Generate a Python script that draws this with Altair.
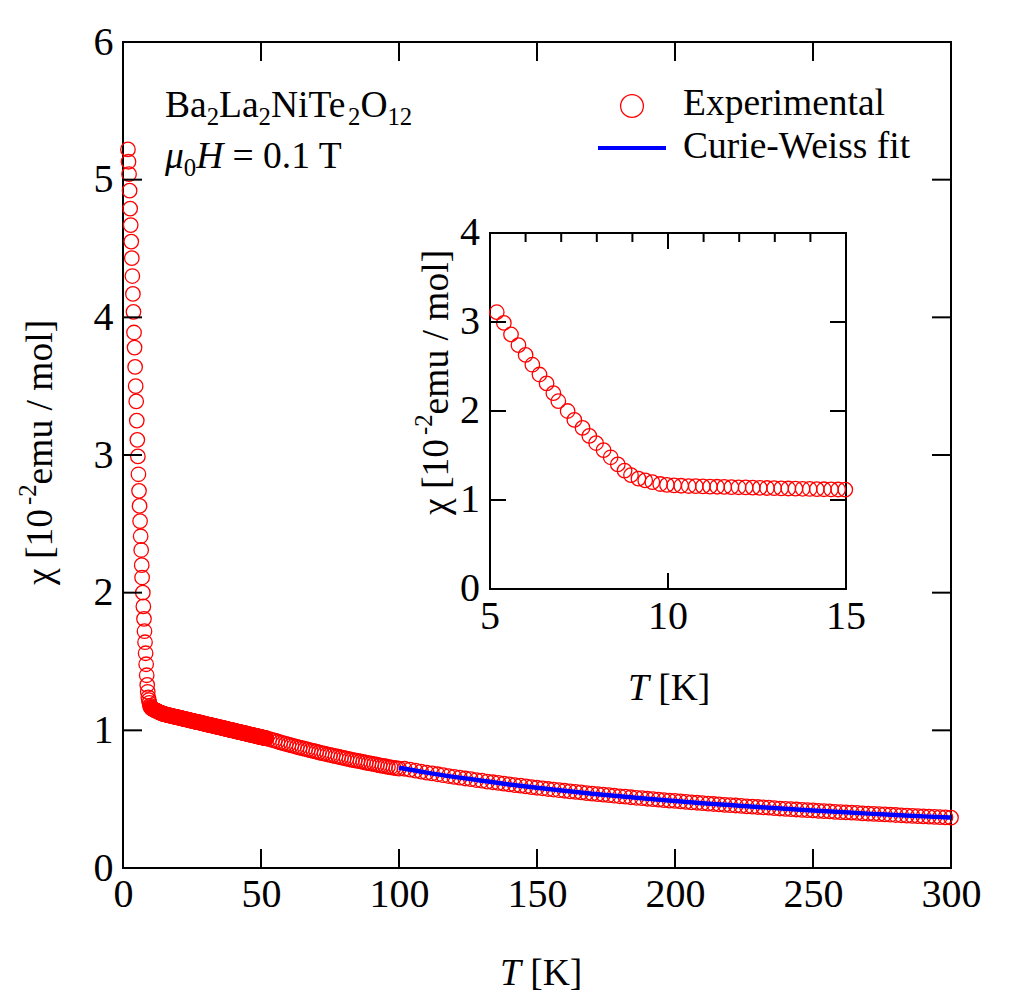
import altair as alt
import pandas as pd

FONT = "Liberation Serif"

# ---- measured susceptibility chi (1e-2 emu/mol) versus T (K) ----
# low-temperature sweep, 0.2 K spacing
low_t0, low_dt = 1.79, 0.2
low_chi = [5.22, 5.13, 5.04, 4.92, 4.79, 4.67, 4.55, 4.43, 4.30, 4.17, 4.04,
           3.89, 3.78, 3.64, 3.50, 3.39, 3.25]

# transition region
mid_T = [5.19, 5.39, 5.59, 5.80, 6.00, 6.19, 6.39, 6.59, 6.78, 6.92, 7.18,
         7.37, 7.60, 7.79, 7.98, 8.19, 8.39, 8.59, 8.78, 8.96, 9.17, 9.36,
         9.56, 9.78, 9.97, 10.17, 10.37, 10.58, 10.78]
mid_chi = [3.11, 2.99, 2.86, 2.74, 2.63, 2.52, 2.41, 2.31, 2.20, 2.11, 2.00,
           1.90, 1.81, 1.72, 1.64, 1.56, 1.48, 1.40, 1.33, 1.28, 1.24, 1.22,
           1.20, 1.18, 1.17, 1.165, 1.160, 1.157, 1.155]

# 10.98 K .. 14.98 K, 0.2 K spacing
seg1_t0, seg1_dt = 10.98, 0.2
seg1_chi = [1.153, 1.151, 1.149, 1.147, 1.145, 1.143, 1.141, 1.139, 1.137,
            1.135, 1.133, 1.131, 1.129, 1.128, 1.126, 1.124, 1.123, 1.121,
            1.120, 1.118, 1.117]

# 15.25 K .. 51.75 K, 0.25 K spacing (one row per kelvin)
seg2_t0, seg2_dt = 15.25, 0.25
seg2_chi = [
    1.116, 1.115, 1.114, 1.112,
    1.111, 1.110, 1.109, 1.107,
    1.106, 1.105, 1.104, 1.102,
    1.101, 1.100, 1.099, 1.098,
    1.097, 1.096, 1.095, 1.093,
    1.092, 1.091, 1.090, 1.088,
    1.087, 1.086, 1.085, 1.083,
    1.082, 1.081, 1.080, 1.079,
    1.078, 1.077, 1.076, 1.074,
    1.073, 1.072, 1.071, 1.069,
    1.068, 1.067, 1.066, 1.064,
    1.063, 1.062, 1.061, 1.060,
    1.059, 1.058, 1.057, 1.055,
    1.054, 1.053, 1.052, 1.050,
    1.049, 1.048, 1.047, 1.045,
    1.044, 1.043, 1.042, 1.041,
    1.040, 1.039, 1.038, 1.036,
    1.035, 1.034, 1.033, 1.031,
    1.030, 1.029, 1.028, 1.026,
    1.025, 1.024, 1.023, 1.022,
    1.021, 1.020, 1.019, 1.017,
    1.016, 1.015, 1.014, 1.012,
    1.011, 1.010, 1.009, 1.007,
    1.006, 1.005, 1.004, 1.003,
    1.002, 1.001, 1.000, 0.998,
    0.997, 0.996, 0.995, 0.993,
    0.992, 0.991, 0.990, 0.988,
    0.987, 0.986, 0.985, 0.984,
    0.983, 0.982, 0.981, 0.979,
    0.978, 0.977, 0.976, 0.974,
    0.973, 0.972, 0.971, 0.969,
    0.968, 0.967, 0.966, 0.965,
    0.964, 0.963, 0.962, 0.960,
    0.959, 0.958, 0.957, 0.955,
    0.954, 0.953, 0.952, 0.950,
    0.949, 0.948, 0.947, 0.946,
    0.945, 0.944, 0.943,
]

# 52 K .. 100 K, 1 K spacing
seg3_t0, seg3_dt = 52.0, 1.0
seg3_chi = [0.942, 0.936, 0.930, 0.925, 0.919, 0.913, 0.907, 0.902, 0.896,
            0.891, 0.886, 0.880, 0.875, 0.870, 0.865, 0.860, 0.855, 0.850,
            0.845, 0.840, 0.835, 0.831, 0.826, 0.821, 0.817, 0.812, 0.808,
            0.803, 0.799, 0.795, 0.790, 0.786, 0.782, 0.778, 0.774, 0.770,
            0.766, 0.762, 0.758, 0.754, 0.750, 0.746, 0.742, 0.739, 0.735,
            0.731, 0.728, 0.725, 0.722]

# 102 K .. 300 K, 2 K spacing
seg4_t0, seg4_dt = 102.0, 2.0
seg4_chi = [0.721, 0.714, 0.707, 0.700, 0.693, 0.687, 0.681, 0.674, 0.668, 0.662,
            0.656, 0.650, 0.645, 0.639, 0.634, 0.628, 0.623, 0.618, 0.613, 0.607,
            0.602, 0.598, 0.593, 0.588, 0.583, 0.579, 0.574, 0.570, 0.565, 0.561,
            0.557, 0.553, 0.549, 0.544, 0.540, 0.537, 0.533, 0.529, 0.525, 0.521,
            0.518, 0.514, 0.510, 0.507, 0.503, 0.500, 0.497, 0.493, 0.490, 0.487,
            0.484, 0.480, 0.477, 0.474, 0.471, 0.468, 0.465, 0.462, 0.459, 0.457,
            0.454, 0.451, 0.448, 0.446, 0.443, 0.440, 0.438, 0.435, 0.432, 0.430,
            0.428, 0.425, 0.422, 0.420, 0.418, 0.415, 0.413, 0.411, 0.408, 0.406,
            0.404, 0.402, 0.400, 0.397, 0.395, 0.393, 0.391, 0.389, 0.387, 0.385,
            0.383, 0.381, 0.379, 0.377, 0.375, 0.373, 0.371, 0.369, 0.368, 0.366]

# Curie-Weiss fit, 100-300 K
fit_T = [100, 110, 120, 130, 140, 150, 160, 170, 180, 190, 200,
         210, 220, 230, 240, 250, 260, 270, 280, 290, 300]
fit_chi = [0.728, 0.693, 0.662, 0.634, 0.607, 0.583, 0.561, 0.540, 0.521, 0.503,
           0.487, 0.471, 0.457, 0.443, 0.430, 0.418, 0.406, 0.395, 0.385, 0.375,
           0.366]

# axis ticks
main_xticks = [0, 50, 100, 150, 200, 250, 300]
main_yticks = [0, 1, 2, 3, 4, 5, 6]
inset_xticks = [5, 10, 15]
inset_xminor = [6, 7, 8, 9, 11, 12, 13, 14]
inset_yticks = [0, 1, 2, 3, 4]


def sweep(t0, dt, vals):
    return [round(t0 + dt * i, 3) for i in range(len(vals))], list(vals)


T_all, chi_all = [], []
for t, c in [sweep(low_t0, low_dt, low_chi), (mid_T, mid_chi),
             sweep(seg1_t0, seg1_dt, seg1_chi), sweep(seg2_t0, seg2_dt, seg2_chi),
             sweep(seg3_t0, seg3_dt, seg3_chi), sweep(seg4_t0, seg4_dt, seg4_chi)]:
    T_all += t
    chi_all += c

data = pd.DataFrame({"T": T_all, "chi": chi_all})
inset_data = data[(data["T"] >= 5) & (data["T"] <= 15.05)]
fit = pd.DataFrame({"T": fit_T, "chi": fit_chi})

# ---- layout (pixels) ----
PAD_L, PAD_T, W, H = 123, 42, 828, 826
PAD_R = 1036 - PAD_L - W
PAD_B = 997 - PAD_T - H


def X(px):
    return px - PAD_L


def Y(py):
    return py - PAD_T


RED = "#ff0000"
BLUE = "#0000ff"
MARK_SIZE = 210
MARK_STROKE = 1.3

sx_main = alt.Scale(domain=[0, 300], nice=False, zero=False)
sy_main = alt.Scale(domain=[0, 6], nice=False, zero=False)
INS_L, INS_R, INS_B, INS_T = X(490), X(846), Y(589), Y(233)
sx_ins = alt.Scale(domain=[5, 15], range=[INS_L, INS_R], nice=False, zero=False)
sy_ins = alt.Scale(domain=[0, 4], range=[INS_B, INS_T], nice=False, zero=False)

# glyph advance widths (em) for serif text layout
ADV = {'B': .667, 'a': .444, 'L': .611, 'N': .722, 'i': .278, 'T': .611,
       'e': .444, 'O': .722, ' ': .25, '=': .564, '.': .25, '[': .333,
       ']': .333, 'K': .722, 'm': .778, 'u': .5, '/': .278, 'o': .5,
       'l': .278, '-': .333, 'χ': .549, 'μ': .576, 'H': .722, 'C': .667,
       'r': .333, 'W': .944, 's': .389, 'f': .333, 't': .278}


def adv(s, size, italic=False):
    w = 0.0
    for ch in s:
        if ch.isdigit():
            w += .5
        elif italic and ch == 'T':
            w += .556
        elif italic and ch == 'μ':
            w += .5
        else:
            w += ADV.get(ch, .5)
    return w * size


def text(txt, x, y, size, italic=False, align="left", angle=0, baseline="alphabetic"):
    kw = dict(font=FONT, fontSize=size, color="black", align=align,
              baseline=baseline, fontStyle="italic" if italic else "normal")
    if angle:
        kw["angle"] = angle
    return alt.Chart(pd.DataFrame({"t": [txt]})).mark_text(**kw).encode(
        text="t:N", x=alt.value(x), y=alt.value(y))


def rich(pieces, x, y, size):
    """pieces: (text, kind, italic); kind in n/sub/sup; laid out left to right."""
    out = []
    small = size * 0.66
    for txt, kind, it in pieces:
        lead = len(txt) - len(txt.lstrip(" "))
        if kind == "sub":
            out.append(text(txt, x, y + size * 0.22, small, it))
            x += adv(txt, small, it)
        elif kind == "sup":
            out.append(text(txt, x, y - size * 0.42, small, it))
            x += adv(txt, small, it)
        else:
            x += adv(" " * lead, size)
            out.append(text(txt.strip(" "), x, y, size, it))
            x += adv(txt.lstrip(" "), size, it)
    return out


def rich_vertical(pieces, x, y, size):
    """Same as rich, rotated to read bottom-to-top; (x, y) is the baseline start."""
    out = []
    small = size * 0.66
    for txt, kind, it in pieces:
        if kind == "sup":
            out.append(text(txt, x - size * 0.42, y, small, it, angle=270))
            y -= adv(txt, small, it)
        else:
            out.append(text(txt, x, y, size, it, angle=270))
            y -= adv(txt, size, it)
    return out


LABEL_SIZE = 40
TEXT_SIZE = 37.5

layers = []

# main scatter with its labelled axes
layers.append(
    alt.Chart(data).mark_point(shape="circle", filled=False, color=RED, size=MARK_SIZE,
                               strokeWidth=MARK_STROKE, opacity=1).encode(
        x=alt.X("T:Q", scale=sx_main,
                axis=alt.Axis(values=main_xticks, ticks=False, domain=False, grid=False,
                              labelFont=FONT, labelFontSize=LABEL_SIZE, labelColor="black",
                              labelPadding=6, labelFlush=False, title=None, format="d")),
        y=alt.Y("chi:Q", scale=sy_main,
                axis=alt.Axis(values=main_yticks, ticks=False, domain=False, grid=False,
                              labelFont=FONT, labelFontSize=LABEL_SIZE, labelColor="black",
                              labelPadding=10, labelFlush=False, title=None, format="d")),
    )
)

# Curie-Weiss fit
layers.append(
    alt.Chart(fit).mark_line(color=BLUE, strokeWidth=4.5, interpolate="monotone").encode(
        x=alt.X("T:Q", scale=sx_main, axis=None),
        y=alt.Y("chi:Q", scale=sy_main, axis=None),
    )
)

# inward ticks of the main frame
xt = pd.DataFrame({"v": main_xticks[1:-1]})
yt = pd.DataFrame({"v": main_yticks[1:-1]})
TL = 19
for y0, y1 in [(H, H - TL), (0, TL)]:
    layers.append(alt.Chart(xt).mark_rule(color="black", strokeWidth=2).encode(
        x=alt.X("v:Q", scale=sx_main, axis=None), y=alt.value(y0), y2=alt.value(y1)))
for x0, x1 in [(0, TL), (W, W - TL)]:
    layers.append(alt.Chart(yt).mark_rule(color="black", strokeWidth=2).encode(
        y=alt.Y("v:Q", scale=sy_main, axis=None), x=alt.value(x0), x2=alt.value(x1)))

# ---- inset ----
frame = pd.DataFrame({"x0": [5], "x1": [15], "y0": [0], "y1": [4]})
layers.append(alt.Chart(frame).mark_rect(fillOpacity=0, stroke="black", strokeWidth=2).encode(
    x=alt.X("x0:Q", scale=sx_ins, axis=None), x2="x1:Q",
    y=alt.Y("y0:Q", scale=sy_ins, axis=None), y2="y1:Q"))

layers.append(
    alt.Chart(inset_data).mark_point(shape="circle", filled=False, color=RED, size=MARK_SIZE,
                                     strokeWidth=MARK_STROKE, opacity=1).encode(
        x=alt.X("T:Q", scale=sx_ins, axis=None),
        y=alt.Y("chi:Q", scale=sy_ins, axis=None),
    )
)

ixt = pd.DataFrame({"v": [10]})
ixm = pd.DataFrame({"v": inset_xminor})
iyt = pd.DataFrame({"v": inset_yticks[1:-1]})
ITL, ITM = 16, 9
for df_, ln in [(ixt, ITL), (ixm, ITM)]:
    layers.append(alt.Chart(df_).mark_rule(color="black", strokeWidth=2).encode(
        x=alt.X("v:Q", scale=sx_ins, axis=None), y=alt.value(INS_T), y2=alt.value(INS_T + ln)))
layers.append(alt.Chart(ixt).mark_rule(color="black", strokeWidth=2).encode(
    x=alt.X("v:Q", scale=sx_ins, axis=None), y=alt.value(INS_B), y2=alt.value(INS_B - ITL)))
for x0, x1 in [(INS_L, INS_L + ITL), (INS_R, INS_R - ITL)]:
    layers.append(alt.Chart(iyt).mark_rule(color="black", strokeWidth=2).encode(
        y=alt.Y("v:Q", scale=sy_ins, axis=None), x=alt.value(x0), x2=alt.value(x1)))

# inset tick labels
layers.append(alt.Chart(pd.DataFrame({"v": inset_xticks})).mark_text(
    font=FONT, fontSize=LABEL_SIZE, color="black", baseline="top", align="center").encode(
    x=alt.X("v:Q", scale=sx_ins, axis=None), y=alt.value(INS_B + 8), text="v:N"))
layers.append(alt.Chart(pd.DataFrame({"v": inset_yticks})).mark_text(
    font=FONT, fontSize=LABEL_SIZE, color="black", baseline="middle", align="right").encode(
    y=alt.Y("v:Q", scale=sy_ins, axis=None), x=alt.value(INS_L - 10), text="v:N"))

# ---- annotations ----
layers += rich([("Ba", "n", False), ("2", "sub", False), ("La", "n", False),
                ("2", "sub", False), ("NiTe", "n", False), ("2", "sub", False),
                ("O", "n", False), ("12", "sub", False)], X(165), Y(117), TEXT_SIZE)
layers += rich([("μ", "n", True), ("0", "sub", False), ("H", "n", True),
                (" = 0.1 T", "n", False)], X(165), Y(168), TEXT_SIZE)

# legend
layers.append(alt.Chart(pd.DataFrame({"k": ["Experimental"]})).mark_point(
    shape="circle", filled=False, color=RED, size=520, strokeWidth=1.3, opacity=1).encode(
    x=alt.value(X(632)), y=alt.value(Y(106))))
layers.append(alt.Chart(pd.DataFrame({"k": ["Curie-Weiss fit"]})).mark_rule(
    color=BLUE, strokeWidth=4).encode(
    x=alt.value(X(598)), x2=alt.value(X(666)), y=alt.value(Y(148))))
layers.append(text("Experimental", X(683), Y(115), TEXT_SIZE))
layers.append(text("Curie-Weiss fit", X(683), Y(158), TEXT_SIZE))

# axis titles
layers.append(text("T", X(500), Y(985), TEXT_SIZE, italic=True))
layers.append(text("[K]", X(500) + adv("T ", TEXT_SIZE, True), Y(985), TEXT_SIZE))
layers.append(text("T", X(628), Y(700), TEXT_SIZE, italic=True))
layers.append(text("[K]", X(628) + adv("T ", TEXT_SIZE, True), Y(700), TEXT_SIZE))

ytitle = [("χ [10", "n", False), ("-2", "sup", False), ("emu / mol]", "n", False)]
layers += rich_vertical(ytitle, X(52), Y(585), TEXT_SIZE)
layers += rich_vertical(ytitle, X(448), Y(515), TEXT_SIZE)

chart = alt.layer(*layers).resolve_scale(x="independent", y="independent").properties(
    width=W, height=H,
    autosize=alt.AutoSizeParams(type="none"),
    padding={"left": PAD_L, "top": PAD_T, "right": PAD_R, "bottom": PAD_B},
    background="white",
).configure_view(stroke="black", strokeWidth=2)

chart.save("out.html", embed_options={"renderer": "svg", "actions": False})
